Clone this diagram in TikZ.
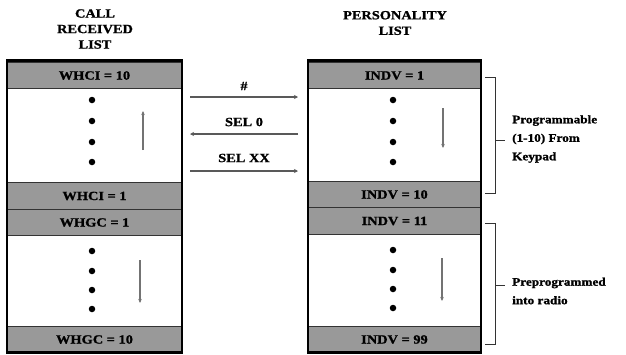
\documentclass[tikz,border=0pt]{standalone}
\usepackage{fontspec}
\setmainfont{Liberation Serif}[FakeStretch=1.15,BoldFeatures={FakeBold=1.2}]
\usetikzlibrary{arrows.meta}
\begin{document}
\begin{tikzpicture}[x=1pt,y=-1pt,
  txt/.style={font=\fontsize{12.5}{14}\selectfont\bfseries, inner sep=0pt},
  row/.style={txt, draw=black!80, line width=0.8pt, fill=black!40, minimum height=26.5pt, inner sep=0pt},
  lrow/.style={row, minimum width=175pt},
  rrow/.style={row, minimum width=173pt},
  listbox/.style={draw=black, line width=2.6pt},
  dot/.style={circle, fill=black, inner sep=0pt, minimum size=6.5pt},
  inarrow/.style={draw=black!55, line width=1.6pt, -{Stealth[length=4pt,width=3.5pt]}},
  midarrow/.style={draw=black!65, line width=1.5pt, -{Stealth[length=4pt,width=4pt]}},
  brack/.style={draw=black!80, line width=1pt},
  title/.style={txt, align=center, font=\fontsize{12.5}{15.5}\selectfont\bfseries},
  side/.style={txt, align=left, anchor=west, font=\fontsize{11.5}{18.5}\selectfont\bfseries}
]
\useasboundingbox (0,0) rectangle (626,354);
% titles
\node[title] (t1) at (95,29) {CALL\\RECEIVED\\LIST};
\node[title] (t2) at (395,23) {PERSONALITY\\LIST};
% left list
\node[lrow] (l1) at (94.5,75.5) {WHCI = 10};
\node[lrow] (l2) at (94.5,196) {WHCI = 1};
\node[lrow] (l3) at (94.5,222.5) {WHGC = 1};
\node[lrow] (l4) at (94.5,339.5) {WHGC = 10};
\node[listbox, minimum width=175pt, minimum height=292pt, inner sep=0pt] (lbox) at (94.5,206.5) {};
% right list
\node[rrow] (r1) at (394.5,75.5) {INDV = 1};
\node[rrow] (r2) at (394.5,194.5) {INDV = 10};
\node[rrow] (r3) at (394.5,221) {INDV = 11};
\node[rrow] (r4) at (394.5,339.5) {INDV = 99};
\node[listbox, minimum width=173pt, minimum height=292pt, inner sep=0pt] (rbox) at (394.5,206.5) {};
% dots
\foreach \y [count=\i] in {100,121,142,162} {
  \node[dot] (la\i) at (92,\y) {};
  \node[dot] (ra\i) at (393,\y) {};
}
\foreach \y [count=\i] in {251,271,290,309} {
  \node[dot] (lb\i) at (92,\y) {};
  \node[dot] (rb\i) at (393,\y-1) {};
}
% inner arrows
\coordinate (lua) at (143,150); \coordinate (lub) at (143,111);
\draw[inarrow] (lua) -- (lub);
\coordinate (lda) at (140,260); \coordinate (ldb) at (140,303);
\draw[inarrow] (lda) -- (ldb);
\coordinate (rua) at (443,108); \coordinate (rub) at (443,148);
\draw[inarrow] (rua) -- (rub);
\coordinate (rda) at (442,258); \coordinate (rdb) at (442,301);
\draw[inarrow] (rda) -- (rdb);
% middle arrows
\coordinate (m1a) at (190,97);  \coordinate (m1b) at (298,97);
\coordinate (m2a) at (298,134); \coordinate (m2b) at (190,134);
\coordinate (m3a) at (190,171); \coordinate (m3b) at (298,171);
\draw[midarrow] (m1a) -- (m1b);
\draw[midarrow] (m2a) -- (m2b);
\draw[midarrow] (m3a) -- (m3b);
\node[txt] (h1) at (244,86) {\#};
\node[txt] (h2) at (244,122) {SEL 0};
\node[txt] (h3) at (244,158) {SEL XX};
% brackets
\coordinate (b1a) at (485,77); \coordinate (b1b) at (495,77);
\coordinate (b1c) at (495,193); \coordinate (b1d) at (485,193);
\coordinate (b1m) at (495,140); \coordinate (b1t) at (505,140);
\draw[brack] (b1a) -- (b1b) -- (b1c) -- (b1d);
\draw[brack] (b1m) -- (b1t);
\node[side] (s1) at (512,139) {Programmable\\(1-10) From\\Keypad};
\coordinate (b2a) at (485,223); \coordinate (b2b) at (495,223);
\coordinate (b2c) at (495,344); \coordinate (b2d) at (485,344);
\coordinate (b2m) at (495,285); \coordinate (b2t) at (505,285);
\draw[brack] (b2a) -- (b2b) -- (b2c) -- (b2d);
\draw[brack] (b2m) -- (b2t);
\node[side] (s2) at (512,291) {Preprogrammed\\into radio};
\end{tikzpicture}
\end{document}
